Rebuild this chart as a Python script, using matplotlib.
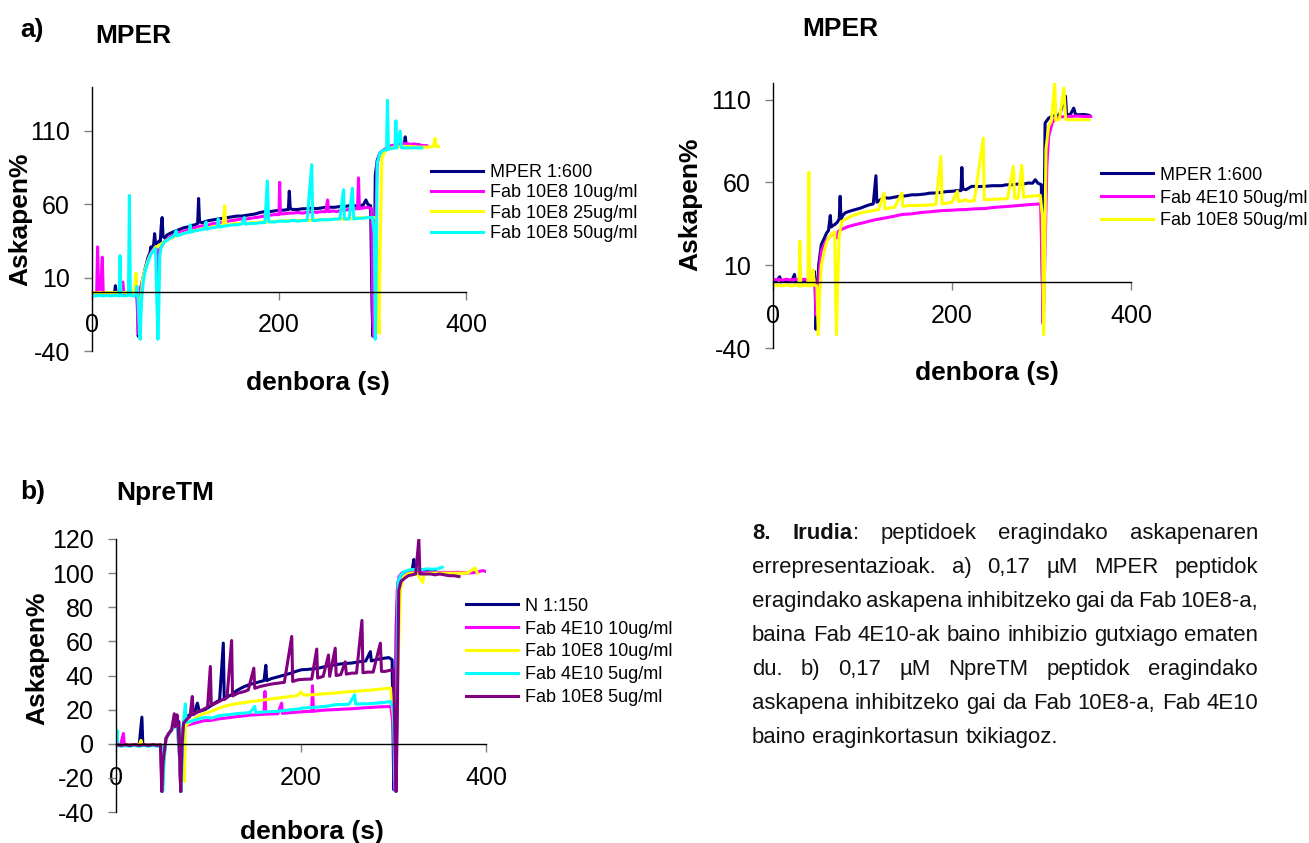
import matplotlib
matplotlib.use("Agg")
import matplotlib.pyplot as plt

plt.rcParams["font.family"] = ["Liberation Sans", "DejaVu Sans"]
plt.rcParams["axes.unicode_minus"] = False

W, H = 1309, 843

# ---------------- a) left: MPER 1:600 + Fab 10E8 (time s, release %) ----------------
a1_mper = [(0, -1), (4, -1.5), (8, -0.5), (12, -1), (16, -1.2), (20, -0.8), (24, -1), (25, 4.5), (26, -1),
           (30, -0.5), (35, -1), (40, -0.5), (44, 0), (47, 1), (48.5, -5), (49.5, -30), (50.5, -20), (52, 2),
           (54, 8), (56, 14), (58, 19), (60, 24), (62, 27), (63, 31), (64, 28), (66, 33), (67, 40), (68, 33),
           (70, 34), (72, 35), (73, 34), (74, 45), (75, 51), (76, 38), (78, 37), (80, 39), (83, 40), (86, 41),
           (90, 42), (94, 43), (98, 44), (102, 44.5), (106, 45.5), (110, 46), (113, 47), (114, 64), (115, 48),
           (118, 47.5), (122, 48.5), (126, 49), (130, 49.5), (135, 50), (140, 50.5), (145, 51), (150, 51.5),
           (155, 52), (160, 52), (165, 52.5), (170, 53), (175, 53.5), (180, 54.5), (185, 55), (190, 55),
           (195, 55.5), (200, 56), (205, 56), (210, 56.5), (211, 69), (212, 57), (215, 56.5), (220, 56.5),
           (225, 57), (230, 57), (235, 57.5), (240, 57), (245, 57.5), (250, 58), (255, 58), (260, 58),
           (265, 58.5), (270, 58.5), (275, 59), (280, 59), (285, 59), (290, 59.5), (293, 63), (295, 60),
           (298, 59), (299.5, -10), (300.5, -30), (302, 20), (303, 80), (305, 90), (308, 95), (312, 97),
           (316, 98), (320, 99), (325, 100), (330, 100.5), (334, 101), (335, 106), (336, 101), (340, 100.5),
           (345, 101), (350, 100.5), (351, 100)]
a1_fab10e8_10 = [(0, -0.5), (3, -1), (5, -1), (6, 31), (7, 0), (9, -1), (11, 24), (12, -0.5), (16, -1),
                 (20, -1), (25, -0.5), (30, -1), (33, 7), (34, -0.5), (38, -1), (42, -0.5), (46, 0), (48, -2),
                 (49.5, -28), (50.5, -15), (52, 3), (55, 11), (58, 18), (61, 24), (64, 28), (67, 30), (69, 31),
                 (70, 5), (71, 8), (72, 29), (74, 31), (78, 35), (82, 37), (86, 38.5), (90, 40), (95, 41),
                 (100, 42), (105, 43), (110, 44), (115, 45), (120, 45.5), (125, 46), (130, 47), (135, 47),
                 (140, 48), (145, 48.5), (150, 49), (155, 49.5), (160, 50), (165, 50), (170, 50.5), (175, 51),
                 (180, 51.5), (185, 52), (190, 52.5), (195, 53), (200, 53), (200.7, 75), (201.5, 53.5),
                 (205, 53.5), (210, 54), (215, 54), (220, 54.5), (225, 54), (230, 54.5), (235, 55), (240, 54.5),
                 (245, 55), (250, 55), (252, 63), (253, 55), (258, 55.5), (262, 55), (266, 56), (270, 56),
                 (275, 56.5), (280, 57), (284, 57), (285, 78), (286, 57), (290, 57.5), (295, 58), (299, 57),
                 (300.5, -20), (301.5, -30), (303, 40), (305, 88), (308, 95), (312, 97), (316, 99), (320, 100),
                 (325, 100.5), (330, 101), (335, 101.5), (340, 101), (345, 101), (350, 100.5), (355, 100),
                 (358, 100)]
a1_fab10e8_25 = [(0, 0), (4, -0.5), (8, 0), (12, -0.5), (16, 0), (20, -0.5), (25, 0), (30, -0.5), (35, 0),
                 (40, -0.5), (45, 0), (47, 13), (48, 1), (50, -5), (51, -30), (52, -10), (54, 8), (56, 14),
                 (59, 20), (62, 25), (65, 28), (68, 31), (70, 31), (72, 32), (75, 33.5), (80, 35.5), (85, 37),
                 (90, 38.5), (95, 39.5), (100, 40.5), (105, 41.5), (110, 42), (115, 43), (120, 43.5), (125, 44),
                 (130, 45), (135, 45), (140, 45.5), (142, 59), (143, 46), (145, 46), (150, 46.5), (155, 47),
                 (160, 47), (165, 47), (170, 47.5), (175, 47.5), (180, 48), (185, 48), (190, 48), (195, 48.5),
                 (200, 48.5), (210, 49), (220, 49), (230, 49), (240, 49.5), (250, 49.5), (260, 50), (270, 50),
                 (280, 50.5), (290, 51), (300, 51), (304, 51), (306, -10), (307, -28), (308, 20), (309, 60),
                 (310, 91), (313, 96), (316, 97.5), (320, 98.5), (325, 99), (330, 99.5), (340, 99.5),
                 (350, 99), (360, 99), (365, 99.5), (367, 105), (368, 99.5), (370.5, 99.5)]
a1_fab10e8_50 = [(0, -2), (4, -2.5), (8, -2), (12, -2.5), (16, -2), (20, -2.5), (25, -2), (29, -2.5), (30, 25),
                 (31, -2), (35, -2.5), (39, -2), (40, 66), (41, -2), (44, -2.5), (47, -2), (48, 4), (49, -2),
                 (50.5, -20), (51.5, -32), (53, -5), (55, 8), (57, 15), (60, 21), (63, 26), (66, 28.5), (68, 30),
                 (69.5, -10), (70.5, -32), (71.5, -10), (72.5, 25), (74, 31), (77, 34), (80, 35.5), (84, 37),
                 (88, 38.5), (90, 42), (91, 38.5), (95, 39.5), (100, 40.5), (104, 41), (105, 46), (106, 41),
                 (110, 42), (115, 42.5), (120, 43), (122, 48), (123, 43), (128, 44), (134, 44.5), (135, 50),
                 (136, 44.5), (140, 45), (145, 45.5), (150, 46), (155, 46), (160, 46.5), (163, 51), (164, 46.5),
                 (170, 47), (175, 47), (180, 47.5), (185, 47.5), (187.5, 76), (189, 48), (195, 48), (200, 48.5),
                 (205, 48.5), (210, 48.5), (215, 49), (220, 48.5), (225, 49), (230, 49), (235, 87), (236, 49),
                 (240, 49), (245, 49.5), (250, 49.5), (255, 49.5), (260, 50), (265, 50), (269, 70), (270, 50),
                 (275, 50), (278.5, 71), (280, 50), (285, 50.5), (290, 50.5), (295, 51), (300, 51), (302, 40),
                 (303, -32), (304, 20), (305, 88), (308, 95), (312, 97), (315, 97), (316, 131), (317, 97.5),
                 (320, 98), (324, 98.5), (325, 117), (326, 98.5), (329.5, 110), (331, 98.5), (335, 98.5),
                 (340, 98.5), (345, 98.5), (350, 98.5), (352.6, 98.5)]
a1_labels = ["MPER 1:600", "Fab 10E8 10ug/ml", "Fab 10E8 25ug/ml", "Fab 10E8 50ug/ml"]

# ---------------- a) right: MPER 1:600 + Fab 4E10 / Fab 10E8 ----------------
a2_mper = [(0, 0), (4, 0.5), (7.5, 3), (9, 0), (13, 0.5), (17, 0), (21, 0.5), (24, 4.4), (25, 0), (29, 0.5),
           (33, 0), (37, 1), (41, 0.5), (45, 1), (46, 6.4), (47, 1), (48, -28.7), (49.5, -10), (51, 10),
           (54, 22.5), (57, 26), (60, 29.5), (62, 31), (64, 40), (65, 33), (67, 34), (69, 34.5), (72, 36),
           (74, 38), (75, 51.6), (76, 38), (78, 40), (80.6, 41.6), (85, 42.5), (92, 43.6), (98, 44.5),
           (103, 45.6), (108, 46.5), (112, 47), (115, 64), (116, 48), (120, 49.5), (125.6, 50.6), (130, 50.5),
           (135, 51), (140, 51.5), (144, 51.6), (150, 52), (155, 52.5), (160, 52.5), (163, 52.6), (170, 53),
           (175, 53.5), (182, 53.6), (188, 54), (195, 54.5), (200, 54.6), (205, 55), (210, 55), (211, 69),
           (212, 56), (215.6, 55.6), (222, 57.6), (230, 57.5), (236.7, 57.6), (245, 58), (255.5, 58),
           (260, 58.5), (266.7, 58.6), (274, 59), (280, 59), (285, 59.6), (290, 59.5), (293, 61.6),
           (296, 59.5), (299.8, 58.6), (301, 0), (302, -25), (303, 40), (304, 95.8), (308, 98.8), (312, 100),
           (316, 100.5), (320, 100.5), (326.8, 112), (328, 101), (332, 100.8), (336, 104.8), (338, 101),
           (342, 100.8), (346, 101), (350, 100.8), (353, 100.5)]
a2_fab4e10_50 = [(0, 1), (5, 1.5), (10, 1), (15, 1.5), (20, 1), (25, 1.5), (30, 1), (35, 1.5), (40, 1),
                 (45, 1.5), (47, 1), (48, -20), (50, -8), (52, 8), (54, 18.5), (57, 22), (60, 25), (63, 27),
                 (65.6, 28.5), (68, 29.5), (71, 26.5), (73, 30.5), (78, 32), (84, 33.3), (92, 34.5), (100, 35.5),
                 (107, 36.5), (115, 37.5), (125, 38.5), (135, 39.5), (144, 40.6), (155, 41), (165, 41.8),
                 (175, 42.2), (182, 42.6), (190, 43), (200, 43.2), (208, 43.5), (215.6, 43.6), (225, 44),
                 (236.7, 44.2), (245, 44.8), (255, 45.2), (265, 45.6), (274, 46), (285, 46.5), (292, 46.8),
                 (299, 47), (301, 0), (302, -25.7), (304, 20), (306, 70), (308, 87.7), (312, 96), (316, 98.8),
                 (320, 99.5), (330, 99.8), (340, 100), (350, 99.8), (355, 99.8)]
a2_fab10e8_50 = [(0, -2.5), (5, -2), (10, -2.5), (15, -2), (20, -2.5), (25, -2), (29, -2.5), (30, 24.5),
                 (31, -2.5), (35, -2), (39, -2.5), (40, 66), (41, -2.5), (44, -2), (45, 7), (46, -2), (49, -2.5),
                 (50.6, -32), (52, -10), (54, 10), (57, 18), (60, 24), (63, 27), (66, 29), (69, 30), (70, -10),
                 (71, -32), (72, -5), (74, 28), (77, 36.5), (82, 38), (87, 39.5), (92, 40.5), (97, 41.5),
                 (102, 42), (107, 42.6), (112, 43), (118, 43.5), (124, 53.6), (125, 44), (130, 44.5), (136, 45),
                 (144, 53.6), (145, 45.6), (152, 46), (160, 46), (168, 46.2), (175, 46.4), (182, 46.6),
                 (187.5, 75.7), (189, 47), (195, 47.5), (200, 48), (206, 54.6), (207, 48.5), (212, 49),
                 (215.6, 49.6), (218, 48.6), (225, 49), (235, 86.7), (236, 49.5), (240, 49.6), (248, 49.8),
                 (255, 50), (262, 50.2), (268.6, 69.7), (270, 50.5), (274, 50.5), (278, 70.3), (280, 51),
                 (285, 51.5), (292, 51.8), (298.6, 52.2), (301, 40), (302.4, -32), (303.5, 10), (305, 80),
                 (308, 94), (311, 97), (314.8, 120), (316, 97.5), (320, 98), (325, 117), (327, 98), (330, 97.8),
                 (335, 97.8), (340, 97.8), (345, 97.8), (350, 97.8), (353, 97.8)]
a2_labels = ["MPER 1:600", "Fab 4E10 50ug/ml", "Fab 10E8 50ug/ml"]

# ---------------- b) NpreTM: N 1:150 + Fab 4E10 / Fab 10E8 ----------------
b_n = [(0, -0.5), (5, -1), (10, -0.5), (15, -1), (20, -0.5), (25, -1), (28, 15.6), (29, -0.5), (33, -1),
       (38, -0.5), (43, -1), (47, -0.5), (49, -1), (50, -28), (51.5, -10), (54, 3.3), (57, 6), (60, 8.2),
       (63, 10), (66, 12), (68, 13), (69, -10), (70, -28), (71.5, -5), (73, 12), (75, 16), (78, 16.5),
       (81, 17), (85, 18.5), (88, 23.8), (90, 19), (96, 20), (102, 22), (107, 24), (112, 25.5), (116, 59),
       (117, 26), (121, 27.7), (126, 29), (130, 31), (135, 32.5), (139, 33.6), (145, 34.8), (150, 35.5),
       (155, 36.3), (160, 37), (162, 46), (163, 37), (168, 38.2), (175, 39.2), (182.7, 40.4), (190, 41.5),
       (195, 42.5), (200.7, 43.4), (206, 43.5), (211.6, 43.8), (219, 44.3), (228, 45.5), (237, 46.3),
       (246, 47), (255, 47.3), (262, 48), (270, 48.5), (275, 54), (276, 48.5), (280.4, 49.2), (286, 49.8),
       (291, 50.2), (295, 50.5), (298.5, 49.2), (300.3, -27), (301.5, -5), (303, 70), (305, 95),
       (309.3, 100), (315, 100.5), (320, 101), (322, 108), (323, 101), (328, 101), (335, 101), (340, 101),
       (345, 101)]
b_fab4e10_10 = [(0, -1), (5, -0.5), (8, 6), (9, -0.5), (13, -1), (18, -0.5), (23, -1), (28, -0.5), (33, -1),
                (38, -0.5), (43, -1), (48, -0.5), (50, -27), (51.5, -10), (54, 3), (57, 6), (60, 8), (63, 10),
                (66, 12), (69, -10), (70, -27), (71.5, 0), (73, 10), (78, 11), (81, 11.5), (88, 12.5),
                (95, 13.5), (103, 13.7), (110, 14.5), (118, 15), (125, 15.5), (132, 16), (139, 16.4),
                (145, 16.8), (152, 17), (160, 17.3), (161, 30.7), (162, 17.3), (168, 17.5), (175, 17.6),
                (179, 23.8), (180, 17.8), (188, 18.2), (195, 18.5), (203, 18.8), (211.6, 19), (212.4, 34),
                (213.5, 19), (220, 19.5), (228, 19.8), (237, 20), (246, 20.3), (255, 20.5), (264, 20.9),
                (273, 21.2), (282, 21.5), (290, 21.7), (297, 21.9), (300, 10), (301, -27), (302.5, 20),
                (304, 90), (306, 98), (309, 100), (315, 100.4), (322, 100.5), (330, 100.4), (340, 100.3),
                (350, 100.4), (360, 100.4), (370, 100.5), (380, 100), (390, 100.5), (396, 101.5), (400, 101)]
b_fab10e8_10 = [(0, -0.5), (5, -1), (10, -0.5), (15, -1), (20, -0.5), (25, -1), (27, 2), (28, -0.5), (33, -1),
                (38, -0.5), (43, -1), (48, -0.5), (50, -26), (51.5, -10), (54, 3), (57, 6), (60, 8), (63, 10),
                (66, 12), (69, -8), (70, -20), (72, 5), (73.5, -15), (74, -22), (75, 10), (78, 12), (81, 13),
                (86, 15), (92, 17), (97, 18), (103, 19), (110, 20.5), (115, 21.5), (121, 22.5), (128, 23.2),
                (134, 23.8), (139, 24.2), (146, 24.7), (153, 25.2), (161, 25.8), (168, 26.3), (175, 26.8),
                (182.7, 27.3), (190, 27.8), (196, 28.2), (200, 30.3), (203, 28.5), (211.6, 28.7), (218, 29),
                (225, 29.3), (230, 29.5), (237, 29.7), (245, 30.2), (255, 30.6), (264, 31), (273, 31.3),
                (282, 31.8), (290, 32.2), (297, 32.6), (301, 10), (302, -22), (304, 30), (307.5, 90), (310, 97),
                (315, 99.5), (320, 100), (325, 100), (331.7, 94.5), (333, 99.5), (340, 100), (350, 100),
                (360, 100), (370, 100), (380, 100), (388, 103), (390.7, 100)]
b_fab4e10_5 = [(0, -1), (1, 8), (2, -1), (6, -1.5), (10, -1), (15, -1.5), (20, -1), (25, -1.5), (30, -1),
               (35, -1.5), (40, -1), (45, -1.5), (49, -1), (50.5, -28), (52, -10), (54, 3), (57, 6), (60, 8),
               (63, 10), (66, 12), (69, -10), (70.5, -28), (72, 0), (73, 12), (75, 23.4), (76, 12.5), (80, 13),
               (86, 14), (92, 15), (98, 15.5), (103, 15), (110, 16.2), (116, 16.8), (121, 17), (128, 17.5),
               (134, 17.8), (139, 18), (145, 18.3), (150, 21.9), (151, 18.3), (158, 18.6), (165, 18.8),
               (175, 19), (182, 19.5), (190, 20), (196, 20.3), (203, 21), (211.6, 21.2), (220, 21.6), (228, 22),
               (237, 22.9), (245, 23), (252, 23.2), (258, 28.7), (259, 23.2), (265, 23.4), (273, 23.4),
               (282, 23.8), (290, 24.2), (296.6, 24.8), (300, 20), (302, -28), (303.5, 10), (305, 95), (308, 99),
               (312, 101), (318, 102), (325, 102.3), (330, 102), (336, 102.5), (342, 102.3), (348, 102.5),
               (352.7, 103.5)]
b_fab10e8_5 = [(0, -0.5), (5, -1), (10, -0.5), (15, -1), (20, -0.5), (25, -1), (30, -0.5), (35, -1), (40, -0.5),
               (45, -1), (48, -0.5), (49.5, -28), (51, -10), (54, 3), (57, 6), (60, 8), (63, 17.6), (64, 10),
               (66, 17), (67, 12), (69, -10), (70, -28), (71.5, 0), (73, 12), (76, 14), (80, 16), (82.5, 27.7),
               (83.5, 17), (88, 18.5), (94, 20), (99, 21.5), (102, 45.3), (103, 22.5), (108, 23.8), (114, 25.5),
               (120, 27), (125, 60.5), (126, 28), (132, 29.7), (138, 30.5), (143, 31.5), (149, 44.3),
               (150, 32.5), (156, 33.6), (162, 34.3), (168, 35), (175, 35.5), (182, 36), (190, 62.9),
               (191, 36.5), (197, 37.5), (204, 37.8), (211.6, 37.9), (217, 55.5), (218, 38.5), (224, 39.5),
               (229.7, 52), (231, 39.5), (237, 56), (238, 40), (243, 40.5), (247.8, 48), (249, 40.8),
               (255, 41.4), (260, 41.4), (265.9, 72.3), (267, 41.6), (272, 42), (278, 42), (285.8, 59),
               (287, 42.4), (291, 42.4), (296, 43), (300, 43.4), (302.8, -28), (304, 10), (305.7, 90), (308, 95),
               (312, 97), (316, 98.5), (320, 99), (324, 99.5), (327.4, 120), (328.5, 99.5), (333, 99.5),
               (340, 99.5), (345, 99), (350, 99.5), (355, 99), (360, 98.5), (365, 98.5), (370.8, 98)]
b_labels = ["N 1:150", "Fab 4E10 10ug/ml", "Fab 10E8 10ug/ml", "Fab 4E10 5ug/ml", "Fab 10E8 5ug/ml"]

caption_lines = [
    "8. Irudia: peptidoek eragindako askapenaren",
    "errepresentazioak. a) 0,17 µM MPER peptidok",
    "eragindako askapena inhibitzeko gai da Fab 10E8-a,",
    "baina Fab 4E10-ak baino inhibizio gutxiago ematen",
    "du. b) 0,17 µM NpreTM peptidok eragindako",
    "askapena inhibitzeko gai da Fab 10E8-a, Fab 4E10",
    "baino eraginkortasun txikiagoz.",
]

NAVY, MAG, YEL, CYA, PUR = "#000080", "#ff00ff", "#ffff00", "#00ffff", "#800080"

fig = plt.figure(figsize=(W / 100, H / 100), dpi=100)


def P(x, y):
    # pixel position in the 1309x843 picture -> figure fraction
    return x / W, 1 - y / H


def panel(left, top, right, bottom, series, labels, colors, ylim, yticks, xpad, leg):
    ax = fig.add_axes([left / W, 1 - bottom / H, (right - left) / W, (bottom - top) / H])
    for s, lab, c in zip(series, labels, colors):
        t, v = zip(*s)
        ax.plot(t, v, color=c, lw=2.2, label=lab)
    ax.set_xlim(0, 400)
    ax.set_ylim(*ylim)
    ax.set_xticks([0, 200, 400])
    ax.set_yticks(yticks)
    ax.spines[["top", "right"]].set_visible(False)
    ax.spines["bottom"].set_position(("data", 0))
    for sp in ("left", "bottom"):
        ax.spines[sp].set_linewidth(1)
    ax.tick_params(labelsize=18, color="#808080", length=6, width=1)
    ax.tick_params(axis="x", pad=xpad)
    ax.tick_params(axis="y", pad=10)
    ax.legend(loc="center left", bbox_to_anchor=P(leg[0], leg[1]), bbox_transform=fig.transFigure,
              frameon=False, fontsize=13, handlelength=2.9, handletextpad=0.35, labelspacing=leg[2],
              borderpad=0, borderaxespad=0)
    return ax


panel(92, 87, 466, 351, [a1_mper, a1_fab10e8_10, a1_fab10e8_25, a1_fab10e8_50], a1_labels,
      [NAVY, MAG, YEL, CYA], (-40, 140), [-40, 10, 60, 110], 9, (431, 203, 0.19))
panel(773, 83, 1131, 348, [a2_mper, a2_fab4e10_50, a2_fab10e8_50], a2_labels,
      [NAVY, MAG, YEL], (-40, 120), [-40, 10, 60, 110], 10, (1101, 198, 0.33))
panel(116, 539, 486, 812, [b_n, b_fab4e10_10, b_fab10e8_10, b_fab4e10_5, b_fab10e8_5], b_labels,
      [NAVY, MAG, YEL, CYA, PUR], (-40, 120), list(range(-40, 121, 20)), 10, (466, 652, 0.33))

bold = dict(fontsize=19, fontweight="bold", va="center")
fig.text(*P(20, 30), "a)", **bold)
fig.text(*P(95, 36), "MPER", **bold)
fig.text(*P(802, 29), "MPER", **bold)
fig.text(*P(20, 492), "b)", **bold)
fig.text(*P(116, 493), "NpreTM", **bold)
for x, y in [(20, 219), (690, 204), (37, 658)]:
    fig.text(*P(x, y), "Askapen%", rotation=90, ha="center", **bold)
for x, y in [(318, 383), (987, 373), (312, 832)]:
    fig.text(*P(x, y), "denbora (s)", ha="center", **bold)

# justified caption block
fig.canvas.draw()
r = fig.canvas.get_renderer()
x0, x1 = 752, 1258


def caption_words(line, first, fs):
    words = []
    for w in line.split():
        if first and w == "Irudia:":
            parts = [("Irudia", "bold"), (":", "normal")]
        else:
            parts = [(w, "bold" if (first and w == "8.") else "normal")]
        objs = [fig.text(0, 0, s, fontsize=fs, fontweight=wt, va="baseline", color="#111111")
                for s, wt in parts]
        words.append((objs, [o.get_window_extent(r).width for o in objs]))
    return words


# pick the size so the tightest line still keeps ~4 px between words
probe = caption_words(caption_lines[2], False, 15)
need = sum(sum(ws) for _, ws in probe)
fs = 15 * (x1 - x0 - 4 * (len(probe) - 1)) / need
for objs, _ in probe:
    for o in objs:
        o.remove()

for i, line in enumerate(caption_lines):
    y = 539 + 34 * i
    words = caption_words(line, i == 0, fs)
    total = sum(sum(ws) for _, ws in words)
    if i == len(caption_lines) - 1:
        gap = 0.28 * fs * 100 / 72
    else:
        gap = (x1 - x0 - total) / (len(words) - 1)
    x = x0
    for objs, ws in words:
        for o, wpx in zip(objs, ws):
            o.set_position(P(x, y))
            x += wpx
        x += gap

fig.savefig("out.png", dpi=100)
